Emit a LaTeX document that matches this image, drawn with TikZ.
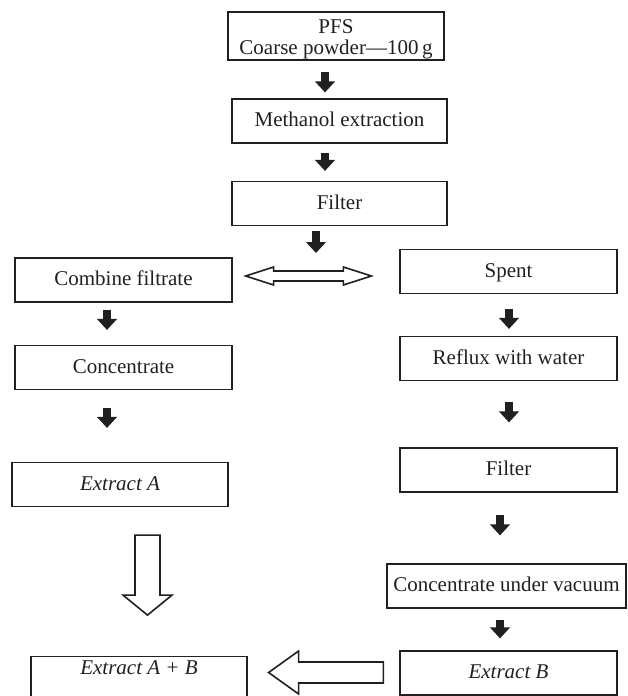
\documentclass[tikz,border=0pt]{standalone}
\usepackage{fontspec}
\setmainfont{Liberation Serif}
\usetikzlibrary{arrows.meta,calc}
\definecolor{ink}{HTML}{231F20}
\begin{document}
\begin{tikzpicture}[x=1pt,y=-1pt,
  box/.style={draw=ink, line width=1.2pt, inner xsep=0pt, inner ysep=0pt,
    minimum width=217pt, minimum height=44pt, text height=14pt, text depth=3pt,
    font=\fontsize{21}{20}\selectfont, text=ink},
  blk/.style={draw=ink, line width=8pt, -{Triangle[length=11pt,width=19.5pt]}},
  hollow/.style={draw=ink, line width=1.6pt, line join=miter, fill=white}]
\useasboundingbox (0,0) rectangle (627,696);
\clip (0,0) rectangle (627,696);
% boxes
\node[box, minimum width=216pt, minimum height=48pt, text height=27pt, text depth=8.2pt] (pfs) at (336,36)
  {\begin{tabular}{@{}c@{}}PFS\\Coarse powder—100\,g\end{tabular}};
\node[box, minimum width=215pt] (meth) at (339.5,121) {Methanol extraction};
\node[box, minimum width=215pt] (filt1) at (339.5,203.5) {Filter};
\node[box] (comb) at (123.5,280) {Combine filtrate};
\node[box] (conc) at (123.5,367.5) {Concentrate};
\node[box, minimum width=216pt] (exA) at (120,484.5) {\itshape Extract A};
\node[box, anchor=north, minimum width=216pt, minimum height=0pt, inner ysep=5pt, text height=13pt, text depth=30pt] (exAB) at (139,656) {\itshape Extract A + B};
\node[box] (spent) at (508.5,271.5) {Spent};
\node[box] (reflux) at (508.5,358.5) {Reflux with water};
\node[box] (filt2) at (508.5,470) {Filter};
\node[box, minimum width=239pt] (cuv) at (506.5,586) {Concentrate under vacuum};
\node[box] (exB) at (508.5,673) {\itshape Extract B};
% filled arrows
\coordinate (split) at (316,253);
\draw[blk, shorten <=11pt, shorten >=6pt] (pfs.south -| 325,0) -- (meth.north -| 325,0);
\draw[blk, shorten <=9pt, shorten >=10pt] (meth.south -| 325,0) -- (filt1.north -| 325,0);
\draw[blk, shorten <=5pt] (filt1.south -| split) -- (split);
\draw[blk, shorten <=7pt, shorten >=15pt] (comb.south -| 107,0) -- (conc.north -| 107,0);
\draw[blk, shorten <=18pt, shorten >=34pt] (conc.south -| 107,0) -- (exA.north -| 107,0);
\draw[blk, shorten <=15pt, shorten >=7pt] (spent.south -| 509,0) -- (reflux.north -| 509,0);
\draw[blk, shorten <=21pt, shorten >=25pt] (reflux.south -| 509,0) -- (filt2.north -| 509,0);
\draw[blk, shorten <=22pt, shorten >=28pt] (filt2.south -| 500,0) -- (cuv.north -| 500,0);
\draw[blk, shorten <=11pt, shorten >=12pt] (cuv.south -| 500,0) -- (exB.north -| 500,0);
% double hollow arrow between combine filtrate and spent
\coordinate (dl) at ($(comb.east)+(13,-4)$);
\coordinate (dr) at ($(spent.west)+(-28,4.5)$);
\draw[hollow] (dl) -- ++(28,-9) -- ++(0,4) -- ($(dr)+(-28,-5)$) -- ++(0,-4) -- (dr)
  -- ++(-28,9) -- ++(0,-4) -- ($(dl)+(28,5)$) -- ++(0,4) -- cycle;
% hollow arrow down from Extract A
\coordinate (dtop) at ($(exA.south)+(27.5,28)$);
\coordinate (dtip) at ($(exA.south)+(27.5,108)$);
\draw[hollow] (dtip) -- ++(-24.5,-20) -- ++(12,0) -- ($(dtop)+(-12.5,0)$) -- ++(25,0)
  -- ($(dtip)+(12.5,-20)$) -- ++(12,0) -- cycle;
% hollow arrow left from Extract B to Extract A + B
\coordinate (ltip) at ($(exAB.north east)+(21,16.5)$);
\coordinate (lend) at ($(exB.west)+(-16,-0.5)$);
\draw[hollow] (ltip) -- ++(30,-21.5) -- ++(0,11) -- ($(lend)+(0,-10.5)$) -- ++(0,21)
  -- ($(ltip)+(30,10.5)$) -- ++(0,11) -- cycle;
\end{tikzpicture}
\end{document}
